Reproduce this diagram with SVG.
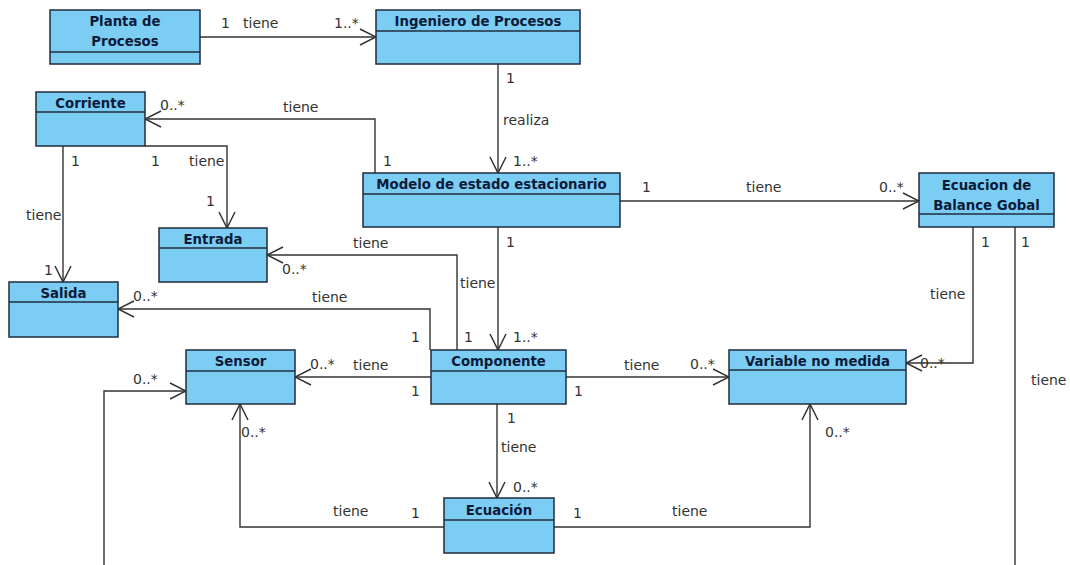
<svg xmlns="http://www.w3.org/2000/svg" width="1070" height="565" viewBox="0 0 1070 565">
<style>
.box{fill:#7ccdf3;stroke:#1f2d3d;stroke-width:1.5}
.div{stroke:#1f2d3d;stroke-width:1.5}
.title{font-family:"DejaVu Sans",sans-serif;font-weight:bold;font-size:13.3px;fill:#0d1b3a;text-anchor:middle}
.lbl{font-family:"DejaVu Sans",sans-serif;font-size:14px;fill:#333}
.con{fill:none;stroke:#333;stroke-width:1.4;marker-end:url(#arr)}
</style>
<defs>
<marker id="arr" viewBox="0 0 18 18" refX="17" refY="9" markerWidth="18" markerHeight="18" markerUnits="userSpaceOnUse" orient="auto">
<path d="M1,1 L17,9 L1,17" fill="none" stroke="#333" stroke-width="1.5"/>
</marker>
</defs>
<rect width="1070" height="565" fill="#fff"/>

<g id="connectors">
<path class="con" d="M200,37 H376"/>
<path class="con" d="M498,64 V173"/>
<path class="con" d="M375,173 V119 H145"/>
<path class="con" d="M63,146 V282"/>
<path class="con" d="M145,146 H227 V228"/>
<path class="con" d="M620,201 H919"/>
<path class="con" d="M498,227 V350"/>
<path class="con" d="M457,350 V255 H267"/>
<path class="con" d="M430,350 V309 H118"/>
<path class="con" d="M431,377 H295"/>
<path class="con" d="M566,377 H729"/>
<path class="con" d="M497,404 V498"/>
<path class="con" d="M444,527 H240 V404"/>
<path class="con" d="M554,527 H810 V404"/>
<path class="con" d="M973,227 V363 H906"/>
<path class="con" d="M1015,227 V575 H104 V391 H186"/>
</g>

<g id="labels">
<text class="lbl" x="221" y="28">1</text>
<text class="lbl" x="243" y="28">tiene</text>
<text class="lbl" x="334" y="28">1..*</text>
<text class="lbl" x="506" y="83">1</text>
<text class="lbl" x="503" y="125">realiza</text>
<text class="lbl" x="513" y="166">1..*</text>
<text class="lbl" x="383" y="166">1</text>
<text class="lbl" x="160" y="110">0..*</text>
<text class="lbl" x="283" y="112">tiene</text>
<text class="lbl" x="71" y="166">1</text>
<text class="lbl" x="151" y="166">1</text>
<text class="lbl" x="189" y="166">tiene</text>
<text class="lbl" x="206" y="206">1</text>
<text class="lbl" x="26" y="220">tiene</text>
<text class="lbl" x="44" y="275">1</text>
<text class="lbl" x="642" y="192">1</text>
<text class="lbl" x="746" y="192">tiene</text>
<text class="lbl" x="879" y="192">0..*</text>
<text class="lbl" x="353" y="248">tiene</text>
<text class="lbl" x="282" y="274">0..*</text>
<text class="lbl" x="312" y="302">tiene</text>
<text class="lbl" x="133" y="301">0..*</text>
<text class="lbl" x="460" y="288">tiene</text>
<text class="lbl" x="506" y="247">1</text>
<text class="lbl" x="411" y="342">1</text>
<text class="lbl" x="464" y="342">1</text>
<text class="lbl" x="513" y="342">1..*</text>
<text class="lbl" x="310" y="369">0..*</text>
<text class="lbl" x="353" y="370">tiene</text>
<text class="lbl" x="411" y="396">1</text>
<text class="lbl" x="574" y="396">1</text>
<text class="lbl" x="624" y="370">tiene</text>
<text class="lbl" x="690" y="369">0..*</text>
<text class="lbl" x="981" y="247">1</text>
<text class="lbl" x="1021" y="247">1</text>
<text class="lbl" x="930" y="299">tiene</text>
<text class="lbl" x="920" y="368">0..*</text>
<text class="lbl" x="1031" y="385">tiene</text>
<text class="lbl" x="133" y="384">0..*</text>
<text class="lbl" x="507" y="423">1</text>
<text class="lbl" x="501" y="452">tiene</text>
<text class="lbl" x="513" y="492">0..*</text>
<text class="lbl" x="241" y="437">0..*</text>
<text class="lbl" x="333" y="516">tiene</text>
<text class="lbl" x="411" y="518">1</text>
<text class="lbl" x="573" y="518">1</text>
<text class="lbl" x="672" y="516">tiene</text>
<text class="lbl" x="825" y="437">0..*</text>
</g>

<g id="planta">
<rect class="box" x="50" y="10" width="150" height="54"/>
<line class="div" x1="50" y1="52" x2="200" y2="52"/>
<text class="title" x="125" y="26">Planta de</text>
<text class="title" x="125" y="46">Procesos</text>
</g>
<g id="ingeniero">
<rect class="box" x="376" y="10" width="204" height="54"/>
<line class="div" x1="376" y1="31" x2="580" y2="31"/>
<text class="title" x="478" y="26">Ingeniero de Procesos</text>
</g>
<g id="corriente">
<rect class="box" x="36" y="92" width="109" height="54"/>
<line class="div" x1="36" y1="112" x2="145" y2="112"/>
<text class="title" x="90.5" y="108">Corriente</text>
</g>
<g id="modelo">
<rect class="box" x="363" y="173" width="257" height="54"/>
<line class="div" x1="363" y1="194" x2="620" y2="194"/>
<text class="title" x="491.5" y="189">Modelo de estado estacionario</text>
</g>
<g id="balance">
<rect class="box" x="919" y="173" width="135" height="54"/>
<line class="div" x1="919" y1="214" x2="1054" y2="214"/>
<text class="title" x="986.5" y="190">Ecuacion de</text>
<text class="title" x="986.5" y="210">Balance Gobal</text>
</g>
<g id="entrada">
<rect class="box" x="159" y="228" width="108" height="54"/>
<line class="div" x1="159" y1="248" x2="267" y2="248"/>
<text class="title" x="213" y="244">Entrada</text>
</g>
<g id="salida">
<rect class="box" x="9" y="282" width="109" height="55"/>
<line class="div" x1="9" y1="302" x2="118" y2="302"/>
<text class="title" x="63.5" y="298">Salida</text>
</g>
<g id="sensor">
<rect class="box" x="186" y="350" width="109" height="54"/>
<line class="div" x1="186" y1="371" x2="295" y2="371"/>
<text class="title" x="240.5" y="366">Sensor</text>
</g>
<g id="componente">
<rect class="box" x="431" y="350" width="135" height="54"/>
<line class="div" x1="431" y1="371" x2="566" y2="371"/>
<text class="title" x="498.5" y="366">Componente</text>
</g>
<g id="variable">
<rect class="box" x="729" y="350" width="177" height="54"/>
<line class="div" x1="729" y1="370" x2="906" y2="370"/>
<text class="title" x="817.5" y="366">Variable no medida</text>
</g>
<g id="ecuacion">
<rect class="box" x="444" y="498" width="110" height="55"/>
<line class="div" x1="444" y1="520" x2="554" y2="520"/>
<text class="title" x="499" y="515">Ecuación</text>
</g>
</svg>
